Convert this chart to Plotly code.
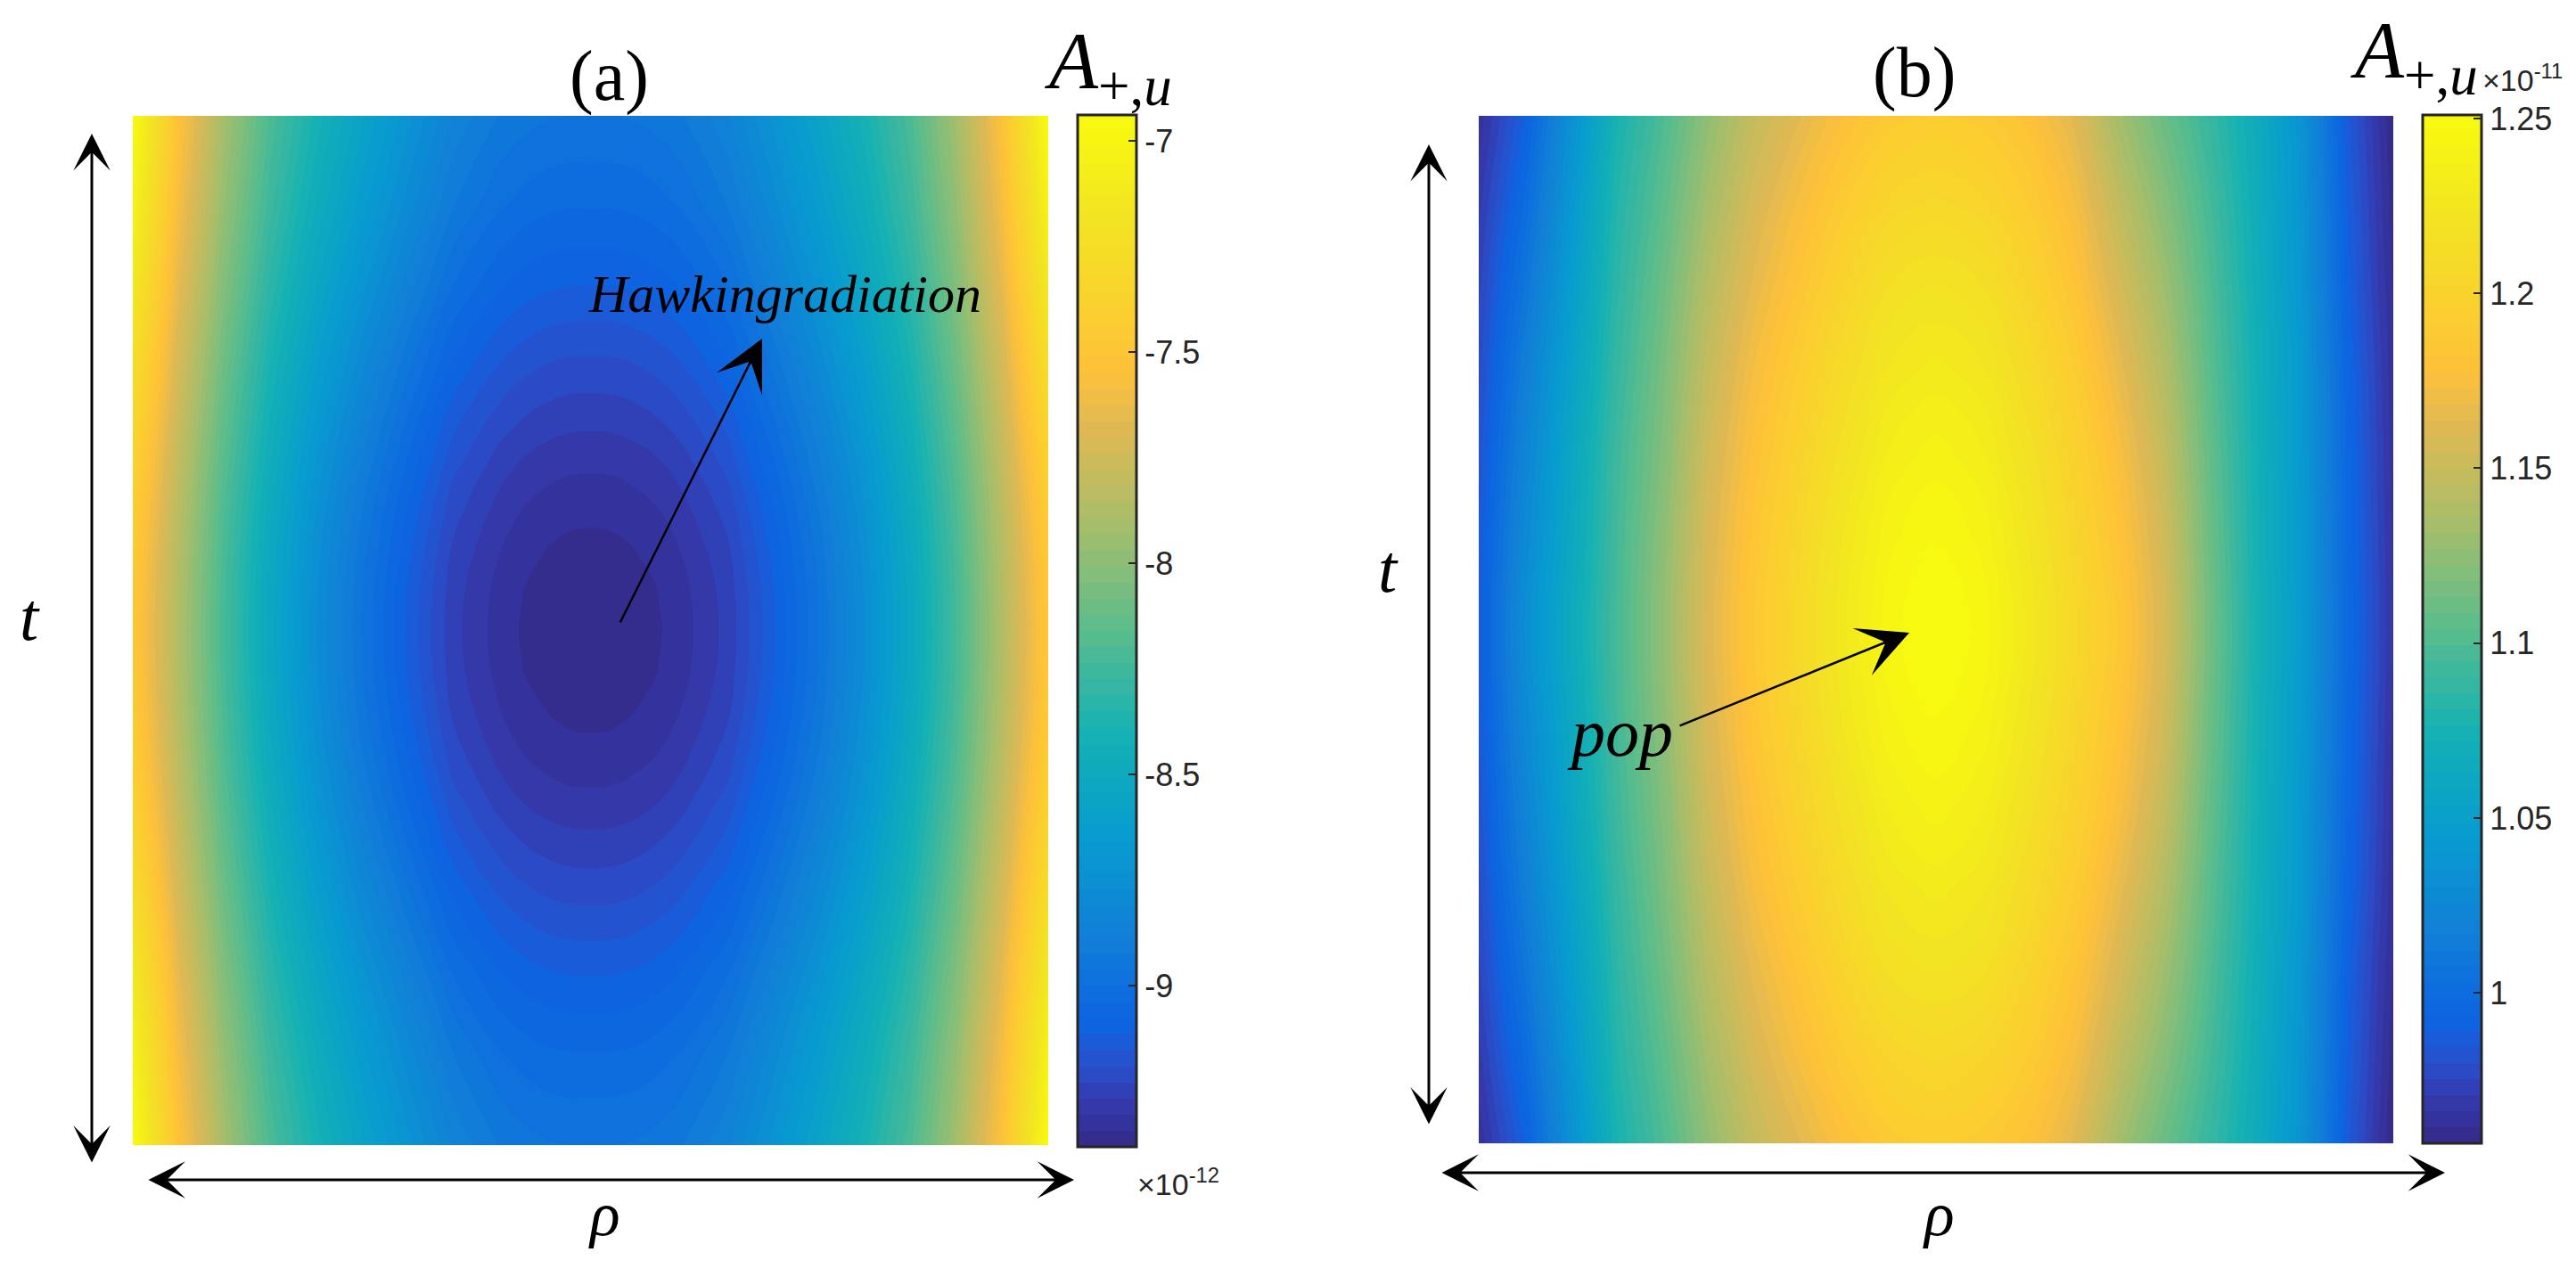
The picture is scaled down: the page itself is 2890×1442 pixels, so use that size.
import plotly.graph_objects as go

W, H = 2890, 1442
OFF = 8  # page body margin of the browser

# ---------------- data ----------------
# panel (a) grid (finer near the minimum)
rho_a = [0.0, 0.05, 0.1, 0.15, 0.2, 0.25, 0.3, 0.35, 0.4, 0.425, 0.45, 0.475, 0.5,
         0.525, 0.55, 0.575, 0.6, 0.65, 0.7, 0.75, 0.8, 0.85, 0.9, 0.95, 1.0]
t_a = [0.0, 0.0833, 0.1667, 0.25, 0.3333, 0.375, 0.4167, 0.4583, 0.5,
       0.5417, 0.5833, 0.625, 0.6667, 0.75, 0.8333, 0.9167, 1.0]

# A_{+,u} in units of 1e-12; rows named by distance from the t-middle
a_m6 = [-6.940, -7.525, -7.914, -8.206, -8.402, -8.572, -8.718, -8.852, -8.925, -8.945, -8.957, -8.962, -8.962,
        -8.962, -8.957, -8.945, -8.925, -8.852, -8.718, -8.572, -8.402, -8.206, -7.914, -7.525, -6.940]
a_m5 = [-7.030, -7.582, -7.967, -8.259, -8.463, -8.637, -8.785, -8.919, -8.991, -9.012, -9.025, -9.031, -9.031,
        -9.031, -9.025, -9.012, -8.991, -8.919, -8.785, -8.637, -8.463, -8.259, -7.967, -7.582, -7.030]
a_m4 = [-7.140, -7.653, -8.033, -8.325, -8.539, -8.718, -8.868, -9.002, -9.073, -9.095, -9.109, -9.116, -9.117,
        -9.116, -9.109, -9.095, -9.073, -9.002, -8.868, -8.718, -8.539, -8.325, -8.033, -7.653, -7.140]
a_m3 = [-7.261, -7.729, -8.104, -8.396, -8.620, -8.805, -8.958, -9.092, -9.162, -9.185, -9.200, -9.208, -9.210,
        -9.208, -9.200, -9.185, -9.162, -9.092, -8.958, -8.805, -8.620, -8.396, -8.104, -7.729, -7.261]
a_m2 = [-7.370, -7.798, -8.168, -8.460, -8.695, -8.885, -9.040, -9.174, -9.243, -9.267, -9.283, -9.292, -9.294,
        -9.292, -9.283, -9.267, -9.243, -9.174, -9.040, -8.885, -8.695, -8.460, -8.168, -7.798, -7.370]
a_m15 = [-7.414, -7.827, -8.195, -8.487, -8.725, -8.917, -9.074, -9.208, -9.276, -9.301, -9.316, -9.326, -9.328,
         -9.326, -9.316, -9.301, -9.276, -9.208, -9.074, -8.917, -8.725, -8.487, -8.195, -7.827, -7.414]
a_m1 = [-7.448, -7.848, -8.214, -8.506, -8.748, -8.941, -9.099, -9.233, -9.301, -9.326, -9.341, -9.351, -9.354,
        -9.351, -9.341, -9.326, -9.301, -9.233, -9.099, -8.941, -8.748, -8.506, -8.214, -7.848, -7.448]
a_m05 = [-7.469, -7.861, -8.227, -8.519, -8.762, -8.957, -9.115, -9.249, -9.317, -9.342, -9.358, -9.368, -9.370,
         -9.368, -9.358, -9.342, -9.317, -9.249, -9.115, -8.957, -8.762, -8.519, -8.227, -7.861, -7.469]
a_m0 = [-7.476, -7.866, -8.231, -8.523, -8.767, -8.962, -9.120, -9.254, -9.322, -9.347, -9.363, -9.373, -9.376,
        -9.373, -9.363, -9.347, -9.322, -9.254, -9.120, -8.962, -8.767, -8.523, -8.231, -7.866, -7.476]
z_a = [a_m6, a_m5, a_m4, a_m3, a_m2, a_m15, a_m1, a_m05, a_m0,
       a_m05, a_m1, a_m15, a_m2, a_m3, a_m4, a_m5, a_m6]

# panel (b) grid
rho_b = [0.0, 0.05, 0.1, 0.15, 0.2, 0.25, 0.3, 0.35, 0.4, 0.45, 0.5,
         0.55, 0.6, 0.65, 0.7, 0.75, 0.8, 0.85, 0.9, 0.95, 1.0]
t_b = [0.0, 0.0833, 0.1667, 0.25, 0.3333, 0.4167, 0.5,
       0.5833, 0.6667, 0.75, 0.8333, 0.9167, 1.0]

# A_{+,u} in units of 1e-11
b_r0 = [0.963, 0.989, 1.033, 1.075, 1.098, 1.125, 1.148, 1.163, 1.178, 1.189, 1.192,
        1.189, 1.180, 1.163, 1.133, 1.110, 1.089, 1.066, 1.036, 0.986, 0.957]
b_r1 = [0.969, 0.999, 1.040, 1.080, 1.104, 1.133, 1.157, 1.174, 1.190, 1.202, 1.206,
        1.202, 1.191, 1.174, 1.146, 1.121, 1.095, 1.068, 1.038, 0.989, 0.959]
b_r2 = [0.974, 1.008, 1.046, 1.084, 1.110, 1.141, 1.165, 1.183, 1.201, 1.215, 1.219,
        1.215, 1.201, 1.183, 1.157, 1.131, 1.100, 1.070, 1.040, 0.991, 0.961]
b_r3 = [0.978, 1.016, 1.052, 1.088, 1.115, 1.148, 1.173, 1.192, 1.210, 1.225, 1.230,
        1.225, 1.210, 1.192, 1.167, 1.140, 1.104, 1.072, 1.042, 0.994, 0.963]
b_r4 = [0.982, 1.022, 1.057, 1.092, 1.119, 1.154, 1.179, 1.199, 1.218, 1.234, 1.240,
        1.234, 1.218, 1.199, 1.176, 1.148, 1.108, 1.073, 1.043, 0.996, 0.964]
b_r5 = [0.985, 1.027, 1.060, 1.094, 1.123, 1.158, 1.184, 1.204, 1.225, 1.241, 1.247,
        1.241, 1.224, 1.204, 1.182, 1.154, 1.111, 1.074, 1.044, 0.997, 0.965]
b_r6 = [0.986, 1.031, 1.063, 1.095, 1.125, 1.160, 1.186, 1.207, 1.227, 1.245, 1.251,
        1.245, 1.227, 1.207, 1.186, 1.157, 1.113, 1.075, 1.045, 0.998, 0.966]
z_b = [b_r0, b_r1, b_r2, b_r3, b_r4, b_r5, b_r6, b_r5, b_r4, b_r3, b_r2, b_r1, b_r0]

a_range = [-9.382, -6.939]
b_range = [0.957, 1.251]
a_ticks = [-9, -8.5, -8, -7.5, -7]
a_ticktext = ["-9", "-8.5", "-8", "-7.5", "-7"]
b_ticks = [1.0, 1.05, 1.1, 1.15, 1.2, 1.25]
b_ticktext = ["1", "1.05", "1.1", "1.15", "1.2", "1.25"]

# ---------------- parula-like colormap ----------------
PARULA = [
    (0.00, (53, 42, 135)),
    (0.04, (52, 56, 170)),
    (0.08, (40, 80, 205)),
    (0.12, (12, 100, 225)),
    (0.20, (18, 125, 216)),
    (0.30, (7, 156, 207)),
    (0.40, (21, 177, 180)),
    (0.50, (89, 189, 140)),
    (0.60, (165, 190, 107)),
    (0.70, (225, 185, 82)),
    (0.75, (254, 192, 58)),
    (0.80, (252, 205, 48)),
    (0.90, (242, 228, 34)),
    (1.00, (249, 251, 14)),
]
colorscale = [[p, "rgb(%d,%d,%d)" % c] for p, c in PARULA]
N_LEVELS = 64  # MATLAB's 64-colour colormap


# ---------------- layout geometry (page pixels) ----------------
def px(x):
    return (x - OFF) / W


def py(y):
    return 1 - (y - OFF) / H


tickfont = dict(family="Liberation Sans, Arial, sans-serif", size=36, color="#262626")


def cbar(x_left, y_top, y_bot, vals, texts):
    return dict(
        x=px(x_left), xanchor="left", xpad=0, ypad=0,
        y=py((y_top + y_bot) / 2), yanchor="middle",
        len=(y_bot - y_top) / H, lenmode="fraction",
        thickness=66, thicknessmode="pixels",
        outlinecolor="#262626", outlinewidth=3,
        ticks="inside", ticklen=10, tickwidth=2, tickcolor="#262626",
        tickvals=vals, ticktext=texts, tickfont=tickfont,
    )


def field(xs, ys, z, zr, xa, ya, cb):
    return go.Contour(
        x=xs, y=ys, z=z, zmin=zr[0], zmax=zr[1], zauto=False,
        autocontour=False,
        contours=dict(start=zr[0], end=zr[1], size=(zr[1] - zr[0]) / N_LEVELS,
                      coloring="fill", showlines=False),
        line=dict(width=0, smoothing=1.3),
        colorscale=colorscale, xaxis=xa, yaxis=ya, colorbar=cb,
    )


fig = go.Figure()
fig.add_trace(field(rho_a, t_a, z_a, a_range, "x", "y",
                    cbar(1209, 129, 1287, a_ticks, a_ticktext)))
fig.add_trace(field(rho_b, t_b, z_b, b_range, "x2", "y2",
                    cbar(2718, 129, 1283, b_ticks, b_ticktext)))

hidden = dict(visible=False, range=[0, 1], showgrid=False, zeroline=False, fixedrange=True)
fig.update_layout(
    width=W, height=H,
    margin=dict(l=0, r=0, t=0, b=0),
    paper_bgcolor="white", plot_bgcolor="white",
    showlegend=False,
    xaxis=dict(domain=[px(149), px(1176)], **hidden),
    yaxis=dict(domain=[py(1285), py(130)], **hidden),
    xaxis2=dict(domain=[px(1659), px(2685)], anchor="y2", **hidden),
    yaxis2=dict(domain=[py(1283), py(130)], anchor="x2", **hidden),
)

serif = "Liberation Serif, Times New Roman, serif"
sans = "Liberation Sans, Arial, sans-serif"
annotations = []


def text_ann(txt, x, y, size, family=serif, color="black"):
    annotations.append(dict(
        text=txt, x=px(x), y=py(y), xref="paper", yref="paper",
        showarrow=False, xanchor="center", yanchor="middle",
        font=dict(family=family, size=size, color=color),
    ))


def arrow_ann(head, tail, width=3, size=2.3, both=False):
    annotations.append(dict(
        text="", x=px(head[0]), y=py(head[1]), xref="paper", yref="paper",
        showarrow=True, axref="pixel", ayref="pixel",
        ax=tail[0] - head[0], ay=tail[1] - head[1],
        arrowhead=3, startarrowhead=3, arrowsize=size, startarrowsize=size,
        arrowwidth=width, arrowcolor="black",
        arrowside="end+start" if both else "end", standoff=0, startstandoff=0,
    ))


# panel titles
text_ann("(a)", 683, 86, 80)
text_ann("(b)", 2147, 82, 80)
# colorbar titles
text_ann("<i>A</i><sub>+,<i>u</i></sub>", 1243, 76, 90)
text_ann("<i>A</i><sub>+,<i>u</i></sub>", 2708, 64, 90)
# exponent labels
text_ann("×10<sup>-12</sup>", 1322, 1326, 34, family=sans, color="#262626")
text_ann("×10<sup>-11</sup>", 2830, 88, 34, family=sans, color="#262626")
# axis labels
text_ann("<i>t</i>", 33, 692, 76)
text_ann("<i>t</i>", 1557, 638, 76)
text_ann("<i>ρ</i>", 678, 1362, 70)
text_ann("<i>ρ</i>", 2175, 1362, 70)
# in-plot labels
text_ann("<i>Hawkingradiation</i>", 880, 330, 60)
text_ann("<i>pop</i>", 1817, 822, 76)

# axis arrows (double headed)
arrow_ann((103, 150), (103, 1306), both=True)
arrow_ann((1205, 1324), (165, 1324), both=True)
arrow_ann((1603, 162), (1603, 1263), both=True)
arrow_ann((2743, 1316), (1616, 1316), both=True)
# pointer arrows
arrow_ann((855, 380), (695, 700), width=2.5, size=3.8)
arrow_ann((2142, 710), (1883, 815), width=2.5, size=3.8)

fig.update_layout(annotations=annotations)
fig.write_html("out.html")
